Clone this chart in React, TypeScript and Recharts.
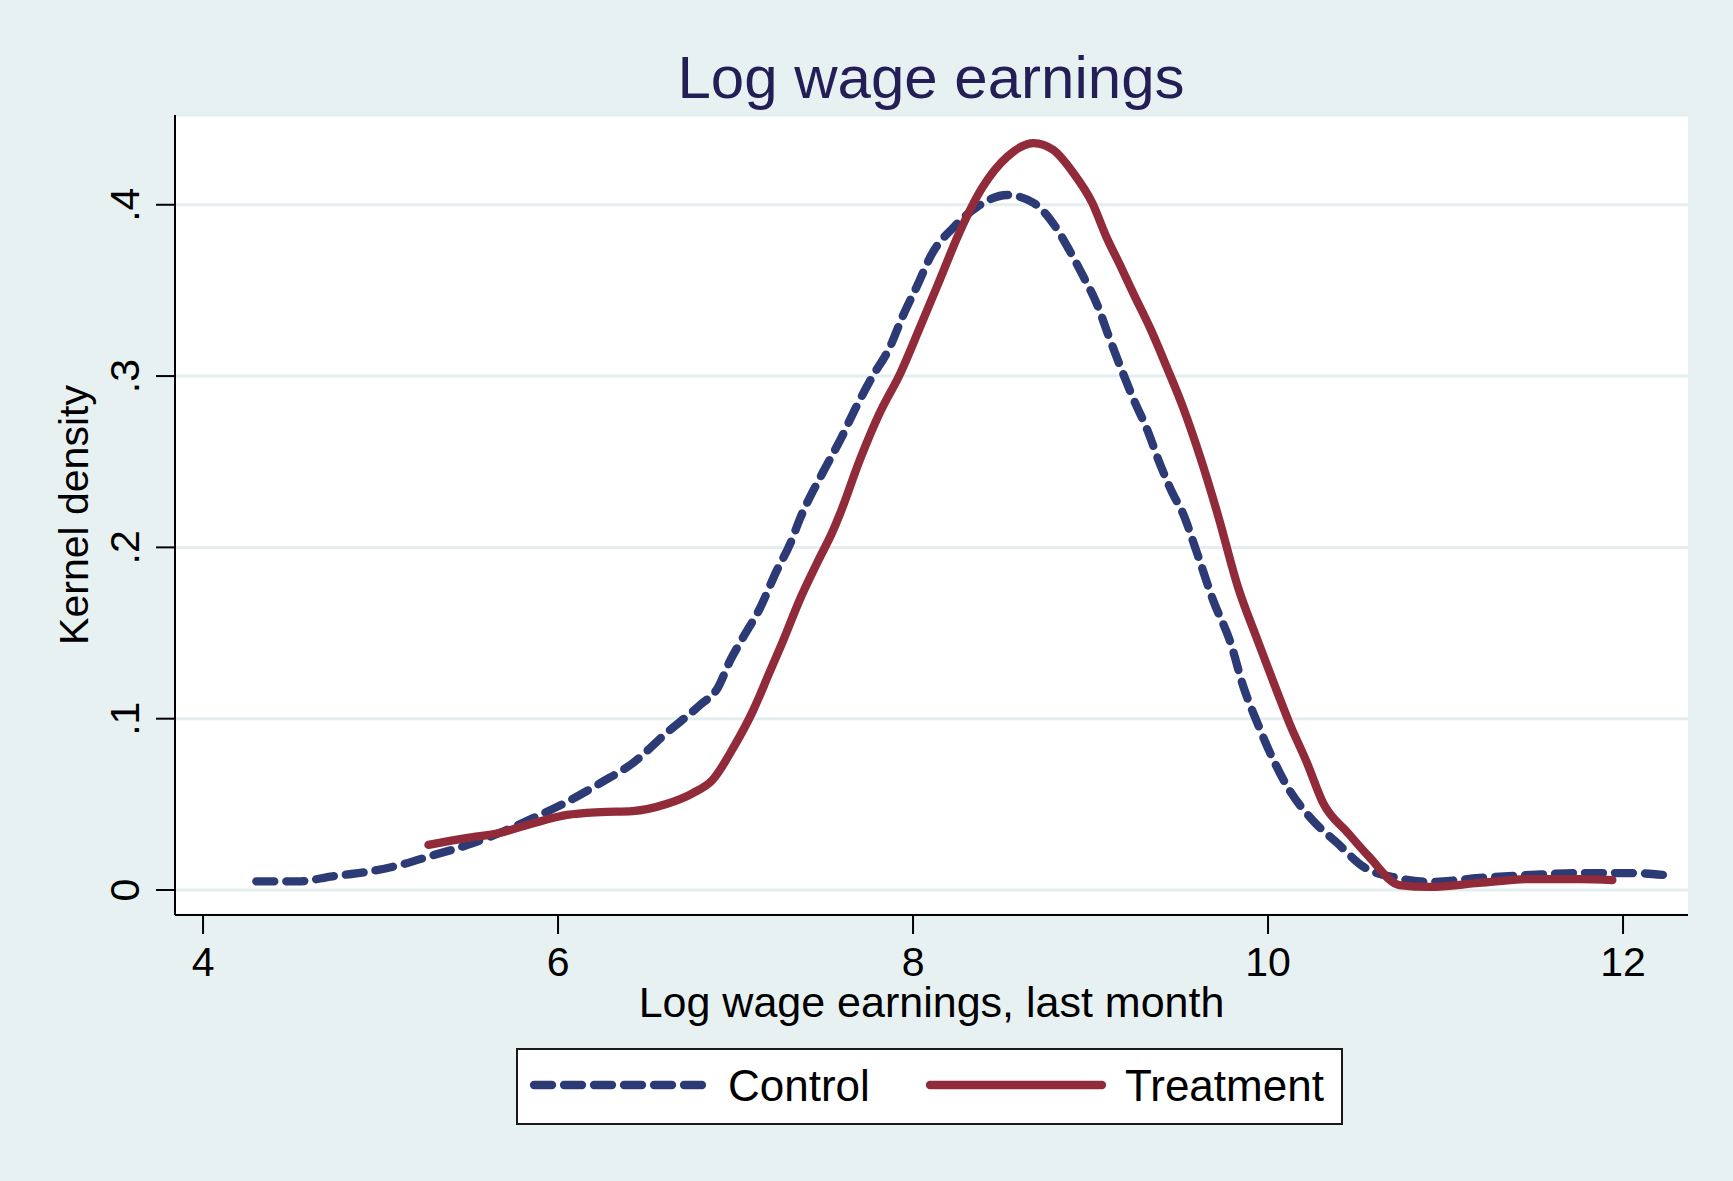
import React from 'react';
import { LineChart, Line, XAxis, YAxis, CartesianGrid, Legend } from 'recharts';

const FONT = '"Liberation Sans", Arial, Helvetica, sans-serif';
const BG = '#e8f1f2';
const CONTROL_COLOR = '#2c3a76';
const TREATMENT_COLOR = '#912a39';

const xTicks = [4, 6, 8, 10, 12];
const yTicks = [0, 0.1, 0.2, 0.3, 0.4];
const yTickLabels = ['0', '.1', '.2', '.3', '.4'];

// kernel density, control group
const controlX = [
  4.3, 4.53, 4.73, 4.92, 5.11, 5.3, 5.49, 5.67, 5.86, 6.05, 6.24, 6.42, 6.61, 6.8, 6.9,
  6.97, 7.04, 7.14, 7.23, 7.31, 7.36, 7.49, 7.59, 7.68, 7.77, 7.87, 7.94, 8.02, 8.11,
  8.23, 8.36, 8.53, 8.68, 8.79, 8.88, 8.96, 9.04, 9.1, 9.17, 9.24, 9.32, 9.39, 9.46,
  9.52, 9.6, 9.69, 9.79, 9.86, 9.94, 10.03, 10.12, 10.25, 10.39, 10.54, 10.73, 10.91,
  11.19, 11.48, 11.76, 12.04, 12.23,
];
const controlY = [
  0.005, 0.005, 0.008, 0.0105, 0.0146, 0.0204, 0.0263, 0.0333, 0.042, 0.0514, 0.0625,
  0.074, 0.0916, 0.108, 0.118, 0.134, 0.147, 0.165, 0.186, 0.2026, 0.216, 0.2434,
  0.2627, 0.282, 0.2995, 0.317, 0.3345, 0.352, 0.372, 0.387, 0.3987, 0.4057, 0.401,
  0.389, 0.3736, 0.358, 0.341, 0.324, 0.305, 0.287, 0.2685, 0.249, 0.232, 0.22, 0.1967,
  0.1693, 0.144, 0.119, 0.0975, 0.0759, 0.0584, 0.0409, 0.0274, 0.0134, 0.007, 0.0047,
  0.007, 0.0088, 0.0099, 0.0099, 0.0088,
];

// kernel density, treatment group
const treatmentX = [
  5.27, 5.49, 5.67, 5.86, 6.05, 6.24, 6.42, 6.61, 6.76, 6.87, 6.99, 7.1, 7.19, 7.27,
  7.36, 7.46, 7.55, 7.59, 7.7, 7.81, 7.93, 8.04, 8.15, 8.26, 8.39, 8.53, 8.68, 8.79,
  8.9, 9.01, 9.09, 9.17, 9.24, 9.34, 9.43, 9.52, 9.62, 9.72, 9.83, 9.94, 10.05, 10.12,
  10.22, 10.31, 10.45, 10.57, 10.74, 10.91, 11.19, 11.48, 11.76, 11.94,
];
const treatmentY = [
  0.0263, 0.0304, 0.0333, 0.039, 0.0438, 0.0455, 0.0461, 0.0502, 0.0566, 0.0642, 0.0835,
  0.105, 0.1267, 0.146, 0.169, 0.191, 0.21, 0.22, 0.251, 0.278, 0.302, 0.3287, 0.356,
  0.3835, 0.41, 0.428, 0.436, 0.432, 0.419, 0.401, 0.381, 0.364, 0.3485, 0.327, 0.305,
  0.282, 0.252, 0.218, 0.177, 0.146, 0.116, 0.0975, 0.0741, 0.0508, 0.0333, 0.0193,
  0.0029, 0.0018, 0.0041, 0.0064, 0.0064, 0.0058,
];

const controlData = controlX.map((x, i) => ({ x, y: controlY[i] }));
const treatmentData = treatmentX.map((x, i) => ({ x, y: treatmentY[i] }));

const LINE_W = 8.3;
const CONTROL_DASH = '18 12';

const YTick = (props: any) => {
  const { x, y, payload } = props;
  const idx = yTicks.findIndex((t) => Math.abs(t - payload.value) < 1e-6);
  return (
    <text
      x={x}
      y={y}
      transform={`rotate(-90, ${x}, ${y})`}
      textAnchor="middle"
      fontSize={41}
      fontFamily={FONT}
      fill="#000"
    >
      {idx >= 0 ? yTickLabels[idx] : payload.value}
    </text>
  );
};

const YTitle = (props: any) => {
  const vb = props.viewBox;
  const cx = vb.x + 13;
  const cy = vb.y + vb.height / 2;
  return (
    <text
      x={cx}
      y={cy}
      transform={`rotate(-90, ${cx}, ${cy})`}
      textAnchor="middle"
      fontSize={41}
      fontFamily={FONT}
      fill="#000"
    >
      Kernel density
    </text>
  );
};

const XTitle = (props: any) => {
  const vb = props.viewBox;
  return (
    <text
      x={vb.x + vb.width / 2}
      y={vb.y + 102}
      textAnchor="middle"
      fontSize={43}
      fontFamily={FONT}
      fill="#000"
    >
      Log wage earnings, last month
    </text>
  );
};

const legendItems = [
  { name: 'Control', color: CONTROL_COLOR, dash: CONTROL_DASH, x0: 16, x1: 186, tx: 210 },
  { name: 'Treatment', color: TREATMENT_COLOR, dash: undefined, x0: 412, x1: 584, tx: 607 },
];

const LegendBox = () => (
  <div
    style={{
      width: 827,
      height: 77,
      border: '2px solid #1a1a1a',
      boxSizing: 'border-box',
      background: '#fff',
    }}
  >
    <svg width={823} height={73} style={{ display: 'block' }}>
      {legendItems.map((it) => (
        <g key={it.name}>
          <line
            x1={it.x0}
            x2={it.x1}
            y1={35}
            y2={35}
            stroke={it.color}
            strokeWidth={LINE_W}
            strokeDasharray={it.dash}
            strokeLinecap="round"
          />
          <text x={it.tx} y={51} fontSize={44} fontFamily={FONT} fill="#000">
            {it.name}
          </text>
        </g>
      ))}
    </svg>
  </div>
);

export default function App() {
  return (
    <div style={{ position: 'relative', width: 1733, height: 1181, background: BG }}>
      <style>{'body { margin: 0; }'}</style>
      <LineChart
        width={1733}
        height={1181}
        margin={{ top: 115, right: 45, bottom: 196, left: 75 }}
      >
        <CartesianGrid
          vertical={false}
          fill="#fff"
          fillOpacity={1}
          stroke="#e4eeef"
          strokeWidth={3}
        />
        <XAxis
          type="number"
          dataKey="x"
          domain={[3.842, 12.366]}
          ticks={xTicks}
          allowDataOverflow
          height={70}
          tickSize={19}
          tickMargin={13}
          axisLine={{ stroke: '#000', strokeWidth: 2 }}
          tickLine={{ stroke: '#000', strokeWidth: 2 }}
          tick={{ fontSize: 41, fill: '#000', fontFamily: FONT }}
          label={{ content: XTitle }}
        />
        <YAxis
          type="number"
          domain={[-0.0146, 0.4524]}
          ticks={yTicks}
          allowDataOverflow
          width={100}
          tickSize={19}
          tickMargin={17}
          axisLine={{ stroke: '#000', strokeWidth: 2 }}
          tickLine={{ stroke: '#000', strokeWidth: 2 }}
          tick={YTick}
          label={{ content: YTitle }}
        />
        <Legend
          layout="horizontal"
          verticalAlign="middle"
          align="center"
          wrapperStyle={{ left: 516, top: 1048, width: 827, height: 77 }}
          content={LegendBox}
        />
        <Line
          data={controlData}
          dataKey="y"
          name="Control"
          type="monotone"
          stroke={CONTROL_COLOR}
          strokeWidth={LINE_W}
          strokeDasharray={CONTROL_DASH}
          strokeLinecap="round"
          dot={false}
          activeDot={false}
          isAnimationActive={false}
        />
        <Line
          data={treatmentData}
          dataKey="y"
          name="Treatment"
          type="monotone"
          stroke={TREATMENT_COLOR}
          strokeWidth={LINE_W}
          strokeLinecap="round"
          strokeLinejoin="round"
          dot={false}
          activeDot={false}
          isAnimationActive={false}
        />
      </LineChart>
      <svg
        width={1733}
        height={115}
        style={{ position: 'absolute', left: 0, top: 0, pointerEvents: 'none' }}
      >
        <text x={931} y={98} textAnchor="middle" fontSize={60} fontFamily={FONT} fill="#231e55">
          Log wage earnings
        </text>
      </svg>
    </div>
  );
}
